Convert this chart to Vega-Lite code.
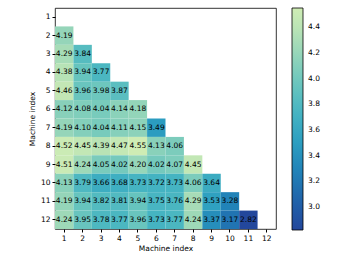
{
  "$schema": "https://vega.github.io/schema/vega-lite/v6.json",
  "autosize": "none",
  "width": 221,
  "height": 221,
  "padding": {"left": 55, "top": 8, "right": 73, "bottom": 33},
  "background": "white",
  "config": {
    "font": "DejaVu Sans",
    "view": {"stroke": "black", "strokeWidth": 0.8},
    "axis": {"labelFont": "DejaVu Sans", "titleFont": "DejaVu Sans", "labelFontSize": 7.5, "titleFontSize": 7.5, "titleFontWeight": "normal", "labelColor": "black", "titleColor": "black", "tickColor": "black", "tickSize": 3, "domain": false, "grid": false, "labelAngle": 0}
  },
  "data": {"values": [
    {"r": 2, "c": 1, "v": 4.19},
    {"r": 3, "c": 1, "v": 4.29}, {"r": 3, "c": 2, "v": 3.84},
    {"r": 4, "c": 1, "v": 4.38}, {"r": 4, "c": 2, "v": 3.94}, {"r": 4, "c": 3, "v": 3.77},
    {"r": 5, "c": 1, "v": 4.46}, {"r": 5, "c": 2, "v": 3.96}, {"r": 5, "c": 3, "v": 3.98}, {"r": 5, "c": 4, "v": 3.87},
    {"r": 6, "c": 1, "v": 4.12}, {"r": 6, "c": 2, "v": 4.08}, {"r": 6, "c": 3, "v": 4.04}, {"r": 6, "c": 4, "v": 4.14}, {"r": 6, "c": 5, "v": 4.18},
    {"r": 7, "c": 1, "v": 4.19}, {"r": 7, "c": 2, "v": 4.10}, {"r": 7, "c": 3, "v": 4.04}, {"r": 7, "c": 4, "v": 4.11}, {"r": 7, "c": 5, "v": 4.15}, {"r": 7, "c": 6, "v": 3.49},
    {"r": 8, "c": 1, "v": 4.52}, {"r": 8, "c": 2, "v": 4.45}, {"r": 8, "c": 3, "v": 4.39}, {"r": 8, "c": 4, "v": 4.47}, {"r": 8, "c": 5, "v": 4.55}, {"r": 8, "c": 6, "v": 4.13}, {"r": 8, "c": 7, "v": 4.06},
    {"r": 9, "c": 1, "v": 4.51}, {"r": 9, "c": 2, "v": 4.24}, {"r": 9, "c": 3, "v": 4.05}, {"r": 9, "c": 4, "v": 4.02}, {"r": 9, "c": 5, "v": 4.20}, {"r": 9, "c": 6, "v": 4.02}, {"r": 9, "c": 7, "v": 4.07}, {"r": 9, "c": 8, "v": 4.45},
    {"r": 10, "c": 1, "v": 4.13}, {"r": 10, "c": 2, "v": 3.79}, {"r": 10, "c": 3, "v": 3.66}, {"r": 10, "c": 4, "v": 3.68}, {"r": 10, "c": 5, "v": 3.73}, {"r": 10, "c": 6, "v": 3.72}, {"r": 10, "c": 7, "v": 3.73}, {"r": 10, "c": 8, "v": 4.06}, {"r": 10, "c": 9, "v": 3.64},
    {"r": 11, "c": 1, "v": 4.19}, {"r": 11, "c": 2, "v": 3.94}, {"r": 11, "c": 3, "v": 3.82}, {"r": 11, "c": 4, "v": 3.81}, {"r": 11, "c": 5, "v": 3.94}, {"r": 11, "c": 6, "v": 3.75}, {"r": 11, "c": 7, "v": 3.76}, {"r": 11, "c": 8, "v": 4.29}, {"r": 11, "c": 9, "v": 3.53}, {"r": 11, "c": 10, "v": 3.28},
    {"r": 12, "c": 1, "v": 4.24}, {"r": 12, "c": 2, "v": 3.95}, {"r": 12, "c": 3, "v": 3.78}, {"r": 12, "c": 4, "v": 3.77}, {"r": 12, "c": 5, "v": 3.96}, {"r": 12, "c": 6, "v": 3.73}, {"r": 12, "c": 7, "v": 3.77}, {"r": 12, "c": 8, "v": 4.24}, {"r": 12, "c": 9, "v": 3.37}, {"r": 12, "c": 10, "v": 3.17}, {"r": 12, "c": 11, "v": 2.82}
  ]},
  "encoding": {
    "x": {"field": "c", "type": "ordinal", "scale": {"domain": [1,2,3,4,5,6,7,8,9,10,11,12], "paddingInner": 0, "paddingOuter": 0}, "axis": {"title": "Machine index", "orient": "bottom", "titlePadding": 3}},
    "y": {"field": "r", "type": "ordinal", "scale": {"domain": [1,2,3,4,5,6,7,8,9,10,11,12], "paddingInner": 0, "paddingOuter": 0}, "axis": {"title": "Machine index", "titlePadding": 4}}
  },
  "layer": [
    {
      "mark": {"type": "rect"},
      "encoding": {
        "color": {
          "field": "v", "type": "quantitative",
          "scale": {"domain": [2.82, 4.55], "scheme": {"name": "yellowgreenblue", "extent": [0.9, 0.14]}},
          "legend": {
            "title": null, "orient": "none", "legendX": 237, "legendY": 0,
            "direction": "vertical", "gradientLength": 222, "gradientThickness": 11,
            "gradientStrokeColor": "black", "gradientStrokeWidth": 0.8,
            "values": [3.0, 3.2, 3.4, 3.6, 3.8, 4.0, 4.2, 4.4],
            "format": ".1f", "labelFontSize": 7.5, "labelFont": "DejaVu Sans", "labelColor": "black",
            "labelOffset": 5
          }
        }
      }
    },
    {
      "mark": {"type": "text", "fontSize": 7.5, "color": "black", "font": "DejaVu Sans"},
      "encoding": {"text": {"field": "v", "type": "quantitative", "format": ".2f"}}
    }
  ]
}
